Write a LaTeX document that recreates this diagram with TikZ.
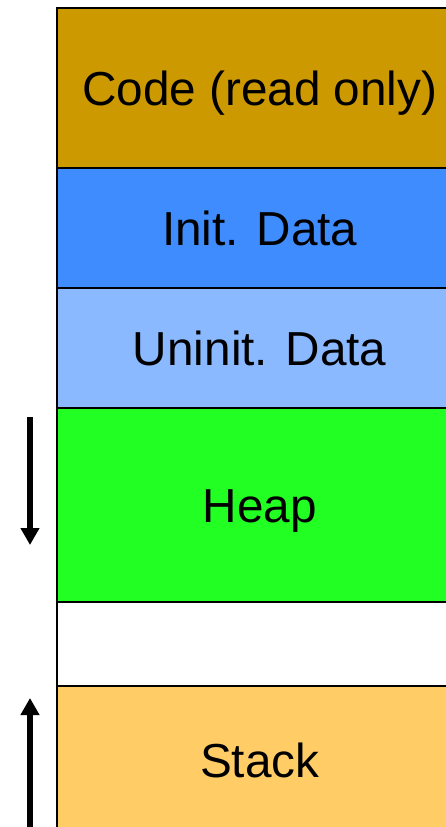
\documentclass[tikz,border=0pt]{standalone}
\usepackage{fontspec}
\setmainfont{Liberation Sans}
\usetikzlibrary{arrows.meta}
\definecolor{codecol}{HTML}{CC9900}
\definecolor{initcol}{HTML}{3F8CFF}
\definecolor{uninitcol}{HTML}{8AB9FF}
\definecolor{heapcol}{HTML}{22FF22}
\definecolor{stackcol}{HTML}{FFCC66}
\tikzset{
  seg/.style={draw=black, line width=1.5pt, minimum width=406pt, inner sep=0pt,
    font=\fontsize{47.7}{57}\selectfont, text=black, text height=36pt, text depth=0pt,
    anchor=north west},
  growarrow/.style={line width=5.5pt, -{Triangle[width=18pt,length=17pt]}}
}
\begin{document}
\begin{tikzpicture}[x=1pt,y=1pt]
  \useasboundingbox (0,0) rectangle (446,-827);
  \clip (0,0) rectangle (446,-827);
  % memory segments, top to bottom
  \node[seg, fill=codecol,   minimum height=160pt] (code)   at (56,-7)   {Code (read only)};
  \node[seg, fill=initcol,   minimum height=120pt] (init)   at (56,-167) {Init. Data};
  \node[seg, fill=uninitcol, minimum height=120pt] (uninit) at (56,-287) {Uninit. Data};
  \node[seg, fill=heapcol,   minimum height=194pt] (heap)   at (56,-407) {Heap};
  \node[seg, fill=white,     minimum height=84pt]  (free)   at (56,-601) {};
  \node[seg, fill=stackcol,  minimum height=148pt] (stack)  at (56,-685) {Stack};
  % growth directions
  \coordinate (heapA) at (30,-417);
  \coordinate (heapB) at (30,-545);
  \coordinate (stackA) at (30,-830);
  \coordinate (stackB) at (30,-698);
  \draw[growarrow] (heapA) -- (heapB);
  \draw[growarrow] (stackA) -- (stackB);
\end{tikzpicture}
\end{document}
